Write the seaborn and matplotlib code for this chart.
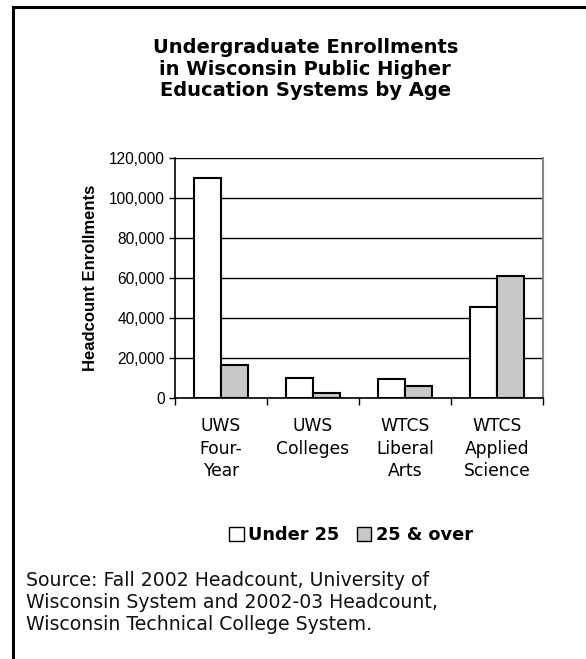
import matplotlib
matplotlib.use('Agg')
import matplotlib.pyplot as plt
from matplotlib.patches import Rectangle, Patch
from matplotlib.ticker import FuncFormatter, FixedLocator
import seaborn as sns
import pandas as pd

# Data
categories = ['UWS\nFour-\nYear', 'UWS\nColleges', 'WTCS\nLiberal\nArts', 'WTCS\nApplied\nScience']
under_25 = [110000, 10000, 9500, 45500]
over_25 = [16500, 2700, 6000, 61000]
groups = ['Under 25', '25 & over']

df = pd.DataFrame({
    'category': categories * 2,
    'group': [groups[0]] * 4 + [groups[1]] * 4,
    'value': under_25 + over_25,
})

sns.set_style('white')
plt.rcParams['font.family'] = ['Liberation Sans', 'DejaVu Sans']
plt.rcParams['text.color'] = 'black'
plt.rcParams['axes.labelcolor'] = 'black'
plt.rcParams['xtick.color'] = 'black'
plt.rcParams['ytick.color'] = 'black'

fig = plt.figure(figsize=(5.86, 6.59), dpi=100)
ax = fig.add_axes([0.2986, 0.3961, 0.628, 0.3641])

sns.barplot(data=df, x='category', y='value', hue='group',
            palette=['white', '#c8c8c8'], width=0.58, gap=0,
            edgecolor='black', linewidth=1.5, ax=ax, legend=False)

ax.set_ylim(0, 120000)
ax.set_xlim(-0.5, 3.5)
ax.set_yticks(range(0, 120001, 20000))
ax.yaxis.set_major_formatter(FuncFormatter(lambda v, p: f'{int(v):,}'))
ax.yaxis.grid(True, color='black', linewidth=1)
ax.set_axisbelow(True)
ax.tick_params(axis='y', labelsize=11.2, length=4, width=1, direction='out', left=True, color='black')
ax.tick_params(axis='x', which='major', length=0, pad=14)
ax.xaxis.set_minor_locator(FixedLocator([-0.5, 0.5, 1.5, 2.5, 3.5]))
ax.tick_params(axis='x', which='minor', length=5, width=1, direction='out', bottom=True, color='black')
for lbl in ax.get_xticklabels():
    lbl.set_family('DejaVu Sans')
    lbl.set_linespacing(1.32)
    lbl.set_fontsize(12.3)

for side in ['left', 'bottom']:
    ax.spines[side].set_color('black')
    ax.spines[side].set_linewidth(1.2)
ax.spines['right'].set_color('#888888')
ax.spines['right'].set_linewidth(1.5)
ax.spines['top'].set_visible(False)

ax.set_xlabel('')
ax.set_ylabel('Headcount Enrollments', fontsize=12, fontweight='bold', labelpad=8)

# Title
fig.text(0.521, 0.942, 'Undergraduate Enrollments\nin Wisconsin Public Higher\nEducation Systems by Age',
         ha='center', va='top', fontsize=14, fontweight='bold', linespacing=1.17,
         family='DejaVu Sans')

# Legend
handles = [Patch(facecolor='white', edgecolor='black', linewidth=1),
           Patch(facecolor='#c8c8c8', edgecolor='black', linewidth=1)]
leg = fig.legend(handles, groups, loc='center', bbox_to_anchor=(0.599, 0.188),
                 ncol=2, frameon=False, handlelength=0.8, handleheight=0.8,
                 handletextpad=0.25, columnspacing=1.0,
                 prop={'weight': 'bold', 'size': 12.8, 'family': 'DejaVu Sans'})

# Source note
fig.text(0.044, 0.085, 'Source: Fall 2002 Headcount, University of\n'
         'Wisconsin System and 2002-03 Headcount,\nWisconsin Technical College System.',
         ha='left', va='center', fontsize=13.6, family='DejaVu Sans', linespacing=1.2,
         color='#111111')

# Outer frame
fig.patches.append(Rectangle((0.0225, -0.1), 1.2, 1.089, transform=fig.transFigure,
                             fill=False, edgecolor='black', linewidth=2.2))

fig.savefig('out.png', dpi=100)
